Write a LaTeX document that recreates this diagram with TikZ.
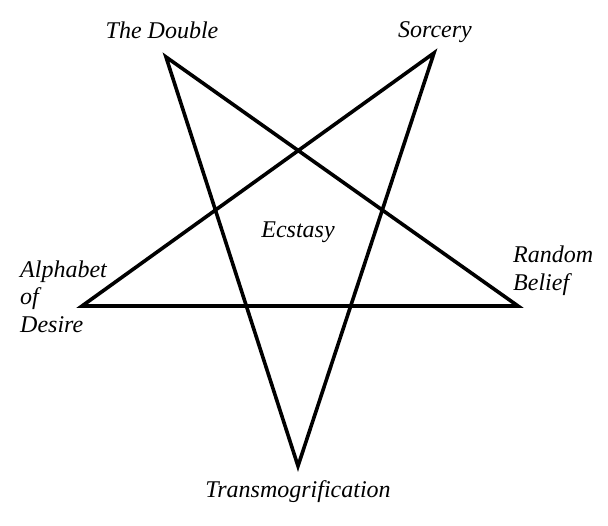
\documentclass[tikz,border=0pt]{standalone}
\usepackage{fontspec}
\setmainfont{Liberation Serif}
\begin{document}
\begin{tikzpicture}[x=1pt,y=-1pt,
  lbl/.style={font=\fontsize{24}{28}\selectfont\itshape, inner sep=0pt, anchor=base},
  starline/.style={line width=3.6pt, line join=miter}]
\useasboundingbox[fill=white] (0,0) rectangle (608,525);
\coordinate (tl) at (166,57);
\coordinate (tr) at (434,53);
\coordinate (l) at (82,306);
\coordinate (r) at (518,306);
\coordinate (b) at (298,466);
\draw[starline] (tl) -- (b) -- (tr) -- (l) -- (r) -- cycle;
\node[lbl] (double) at (162,38) {The Double};
\node[lbl] (sorcery) at (435,37) {Sorcery};
\node[lbl] (ecstasy) at (298,237) {Ecstasy};
\node[lbl, anchor=base west] (alpha) at (20,277) {Alphabet};
\node[lbl, anchor=base west] (of) at (20,304) {of};
\node[lbl, anchor=base west] (desire) at (20,332) {Desire};
\node[lbl, anchor=base west] (random) at (513,262) {Random};
\node[lbl, anchor=base west] (belief) at (513,290) {Belief};
\node[lbl] (trans) at (298,497) {Transmogrification};
\end{tikzpicture}
\end{document}
